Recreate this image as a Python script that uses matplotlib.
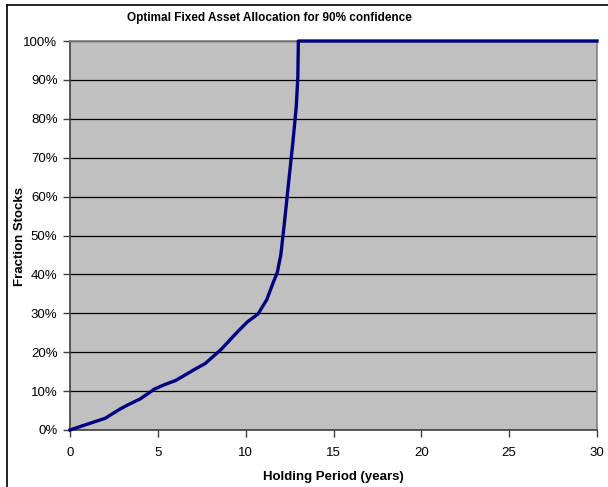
import matplotlib
matplotlib.use("Agg")
import matplotlib.pyplot as plt
from matplotlib.lines import Line2D
from matplotlib.ticker import PercentFormatter

plt.rcParams['font.family'] = ['Liberation Sans', 'DejaVu Sans']

# holding period (years) and optimal fraction in stocks
years = [0, 0.85, 2.0, 2.85, 3.4, 4.0, 4.8, 5.4, 6.0, 6.5, 7.1, 7.7, 8.6,
         9.55, 10.1, 10.7, 11.2, 11.55, 11.8, 12.0, 12.2, 12.4, 12.7,
         12.88, 12.97, 13.0, 14, 15, 16, 17, 18, 19, 20, 21, 22, 23, 24,
         25, 26, 27, 28, 29, 30]
fraction = [0.0, 0.013, 0.030, 0.054, 0.067, 0.080, 0.105, 0.117, 0.127,
            0.140, 0.156, 0.171, 0.207, 0.253, 0.278, 0.298, 0.335, 0.377,
            0.405, 0.450, 0.530, 0.617, 0.745, 0.831, 0.908, 1.0, 1.0, 1.0,
            1.0, 1.0, 1.0, 1.0, 1.0, 1.0, 1.0, 1.0, 1.0, 1.0, 1.0, 1.0, 1.0,
            1.0, 1.0]

W, H = 608, 487
fig = plt.figure(figsize=(W / 100, H / 100), dpi=100)
ax = fig.add_axes([70 / W, 1 - 430 / H, (597 - 70) / W, (430 - 41) / H])

ax.set_facecolor('#C0C0C0')
ax.plot(years, fraction, color='#000080', lw=2.4, solid_joinstyle='round',
        zorder=3, clip_on=False)

ax.set_xlim(0, 30)
ax.set_ylim(0, 1)
ax.set_xticks(range(0, 31, 5))
ax.set_yticks([i / 10 for i in range(11)])
ax.yaxis.set_major_formatter(PercentFormatter(1.0, decimals=0))
ax.grid(axis='y', color='black', lw=0.9)
ax.set_axisbelow(True)
ax.tick_params(length=5, width=1, color='#404040', labelsize=9.5, pad=4)
ax.tick_params(axis='x', pad=7)

for side in ['left', 'bottom']:
    ax.spines[side].set_color('#404040')
    ax.spines[side].set_linewidth(1.2)
for side in ['right', 'top']:
    ax.spines[side].set_color('#808080')
    ax.spines[side].set_linewidth(1.2)

fig.text(333 / W, 1 - 477 / H, 'Holding Period (years)', ha='center', va='center',
         fontsize=9.5, fontweight='bold')
fig.text(20 / W, 1 - 236 / H, 'Fraction Stocks', ha='center', va='center',
         rotation=90, fontsize=9.5, fontweight='bold')
fig.text(269 / W, 1 - 18 / H, 'Optimal Fixed Asset Allocation for 90% confidence',
         ha='center', va='center', fontsize=8.5, fontweight='bold')

# chart area border (top and left edges visible)
fig.add_artist(Line2D([7 / W, 1], [1 - 5 / H, 1 - 5 / H], color='black', lw=1.2))
fig.add_artist(Line2D([7 / W, 7 / W], [0, 1 - 5 / H], color='black', lw=1.2))

fig.savefig('out.png', dpi=100)
